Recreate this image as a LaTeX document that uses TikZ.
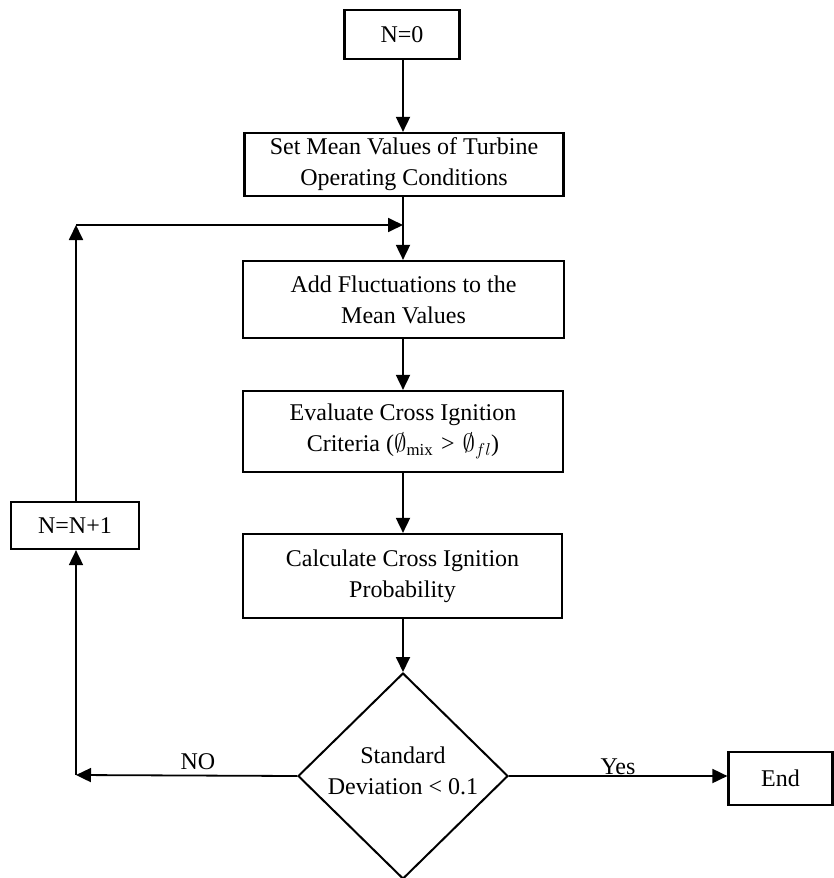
\documentclass[tikz,border=0pt]{standalone}
\usepackage{amssymb}
\usepackage{fontspec}
\setmainfont{Liberation Serif}
\usetikzlibrary{shapes.geometric,arrows.meta}
\begin{document}
\begin{tikzpicture}[x=1pt,y=-1pt,
  every node/.style={font=\fontsize{24}{31}\selectfont},
  procbox/.style={draw,line width=2.2pt,rectangle,align=center,inner sep=0pt},
  decbox/.style={draw,line width=2pt,diamond,aspect=1,inner sep=0pt,align=center},
  flow/.style={line width=1.8pt,-{Triangle[length=15pt,width=14pt]}},
  lbl/.style={inner sep=0pt,align=center}]
\useasboundingbox (0,0) rectangle (833,878);
\node[procbox,minimum width=115pt,minimum height=49pt] (n0) at (402,34.5) {N=0};
\node[procbox,minimum width=319pt,minimum height=63pt] (set) at (404,164.5) {Set Mean Values of Turbine\\Operating Conditions};
\node[procbox,minimum width=321pt,minimum height=77pt] (add) at (403.5,299.5) {Add Fluctuations to the\\Mean Values};
\node[procbox,minimum width=320pt,minimum height=81pt] (eval) at (403,431.5) {Evaluate Cross Ignition\\Criteria ($\emptyset_{\mathrm{mix}}$\,\,>\,\,$\emptyset_{fl}$)};
\node[procbox,minimum width=319pt,minimum height=84pt] (calc) at (402.5,576) {Calculate Cross Ignition\\Probability};
\node[decbox,minimum width=210pt,minimum height=206pt] (dia) at (403,776) {};
\node[lbl] (diatext) at (403,771) {Standard\\Deviation < 0.1};
\node[procbox,minimum width=128pt,minimum height=47pt] (nn) at (75,525.5) {N=N+1};
\node[procbox,minimum width=104pt,minimum height=53pt] (end) at (780.5,778.5) {End};
\coordinate (fb) at (76,225);
\coordinate (fj) at (403,225);
\coordinate (nc) at (76,775);
\draw[flow] (n0.south -| 403,0) -- (set.north -| 403,0);
\draw[flow] (set.south -| 403,0) -- (add.north -| 403,0);
\draw[flow] (add.south -| 403,0) -- (eval.north -| 403,0);
\draw[flow] (eval.south -| 403,0) -- (calc.north -| 403,0);
\draw[flow] (calc.south -| 403,0) -- (dia.north);
\draw[flow] (dia.west) -- (nc);
\draw[flow] (nc) -- (nc |- nn.south);
\draw[flow] (nc |- nn.north) -- (fb);
\draw[flow] (fb) -- (fj);
\draw[flow] (dia.east) -- (dia.east -| end.west);
\node[lbl] (nolbl) at (198,762) {NO};
\node[lbl] (yeslbl) at (618,767) {Yes};
\end{tikzpicture}
\end{document}
